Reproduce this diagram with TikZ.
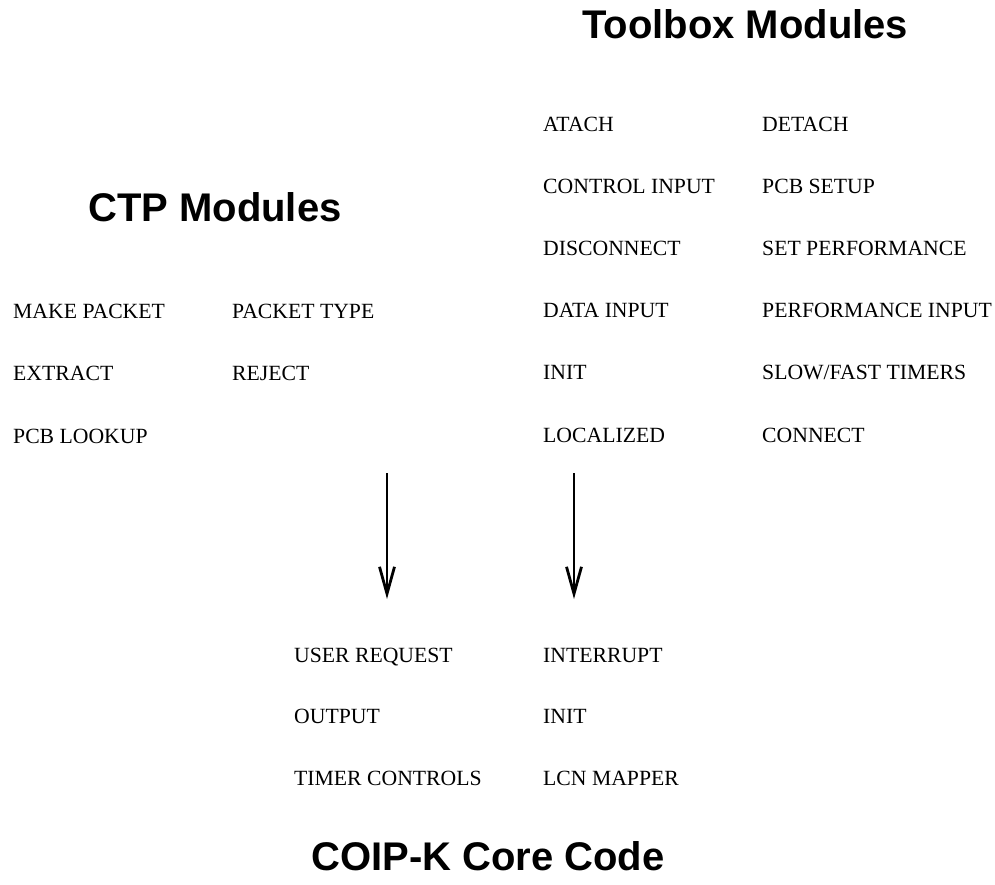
\documentclass[tikz,border=0pt]{standalone}
\usepackage{fontspec}
\setmainfont{Liberation Serif}
\newfontfamily\titlefont{Liberation Sans}
\usetikzlibrary{arrows.meta}
\tikzset{
  item/.style={anchor=base west, inner sep=0pt, font=\fontsize{21.7}{26}\selectfont},
  heading/.style={anchor=base west, inner sep=0pt, font=\titlefont\bfseries\fontsize{40}{48}\selectfont},
  flow/.style={line width=2.8pt, -{Straight Barb[length=27pt,width=15pt,line width=2.8pt]}}
}
\begin{document}
\begin{tikzpicture}[x=1pt,y=1pt]
\useasboundingbox (0,0) rectangle (995,-884);
% headings
\node[heading] (tb) at (582,-38) {Toolbox Modules};
\node[heading] (ctp) at (88,-221) {CTP Modules};
\node[heading] (core) at (311,-870) {COIP-K Core Code};
% toolbox modules
\node[item] (t1) at (543,-131.5) {ATACH};
\node[item] (t2) at (543,-193.5) {CONTROL INPUT};
\node[item] (t3) at (543,-255.5) {DISCONNECT};
\node[item] (t4) at (543,-317.5) {DATA INPUT};
\node[item] (t5) at (543,-379.5) {INIT};
\node[item] (t6) at (543,-442.5) {LOCALIZED};
\node[item] (u1) at (762,-131.5) {DETACH};
\node[item] (u2) at (762,-193.5) {PCB SETUP};
\node[item] (u3) at (762,-255.5) {SET PERFORMANCE};
\node[item] (u4) at (762,-317.5) {PERFORMANCE INPUT};
\node[item] (u5) at (762,-379.5) {SLOW/FAST TIMERS};
\node[item] (u6) at (762,-442.5) {CONNECT};
% CTP modules
\node[item] (c1) at (13,-318) {MAKE PACKET};
\node[item] (c2) at (13,-380) {EXTRACT};
\node[item] (c3) at (13,-443) {PCB LOOKUP};
\node[item] (d1) at (232,-318) {PACKET TYPE};
\node[item] (d2) at (232,-380) {REJECT};
% core code
\node[item] (k1) at (294,-662) {USER REQUEST};
\node[item] (k2) at (294,-723.5) {OUTPUT};
\node[item] (k3) at (294,-785) {TIMER CONTROLS};
\node[item] (m1) at (543,-662) {INTERRUPT};
\node[item] (m2) at (543,-723.5) {INIT};
\node[item] (m3) at (543,-785) {LCN MAPPER};
% arrows
\coordinate (a1s) at (387,-473);
\coordinate (a1e) at (387,-599);
\coordinate (a2s) at (574,-473);
\coordinate (a2e) at (574,-599);
\draw[flow] (a1s) -- (a1e);
\draw[flow] (a2s) -- (a2e);
\end{tikzpicture}
\end{document}
